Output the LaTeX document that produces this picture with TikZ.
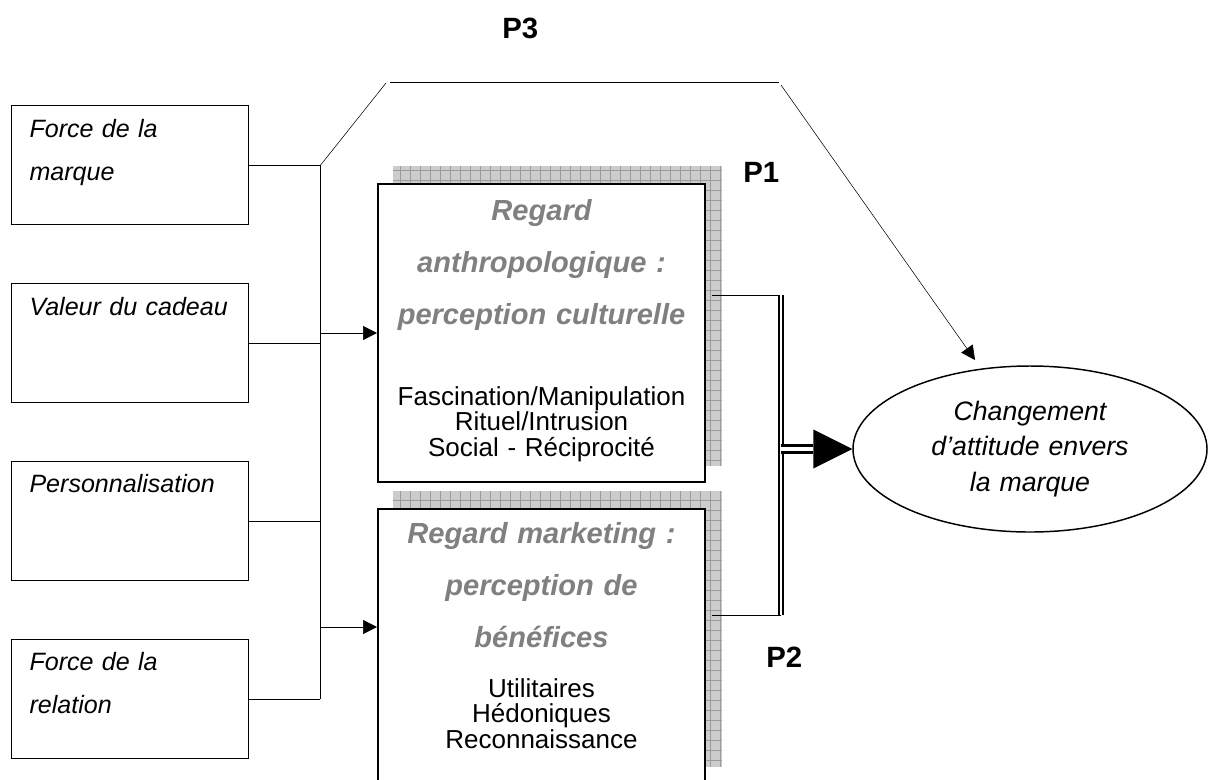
\documentclass[tikz,border=0pt]{standalone}
\usepackage{fontspec}
\setmainfont{Liberation Sans}
\usetikzlibrary{arrows.meta,calc,shapes.geometric,backgrounds}
\definecolor{titlegray}{RGB}{128,128,128}
\definecolor{shadowgray}{RGB}{204,204,204}
\definecolor{shadowline}{RGB}{155,155,155}

\tikzset{every picture/.style={line width=0.75pt}}
\tikzset{
  factor/.style={draw, line width=1.1pt, anchor=north west, inner sep=0pt,
    minimum width=177.75pt, minimum height=89.25pt},
  factortext/.style={anchor=base west, inner sep=0pt, text width=170pt, align=left,
    font=\fontsize{18.8}{32.3}\selectfont\itshape},
  regard/.style={draw, line width=1.5pt, fill=white, anchor=north west, inner sep=0pt,
    minimum width=245.25pt},
  regardtitle/.style={anchor=base, inner sep=0pt, text width=240pt, align=center,
    text=titlegray, font=\fontsize{21.8}{39}\selectfont\bfseries\itshape},
  regarditems/.style={anchor=base, inner sep=0pt, text width=240pt, align=center,
    font=\fontsize{19.5}{19.4}\selectfont},
  outcome/.style={draw, ellipse, line width=1.1pt, inner sep=0pt,
    minimum width=265.5pt, minimum height=124.5pt, text width=160pt, align=center,
    font=\fontsize{20}{26.6}\selectfont\itshape},
  plabel/.style={anchor=base west, inner sep=0pt, font=\fontsize{22}{26}\selectfont\bfseries},
  feed/.style={-{Triangle[length=10.5pt,width=10.5pt]}},
  joint/.style={double, line width=1.2pt, double distance=1.9pt},
  bigshaft/.style={double, line width=2.8pt, double distance=2.6pt},
}

\begin{document}
\begin{tikzpicture}[x=0.75pt,y=0.75pt,yscale=-1,xscale=1]
\useasboundingbox (0,0) rectangle (1227,779);

%Factor boxes
\node[factor] (f1) at (11,105) {};
\node[factor] (f2) at (11,283) {};
\node[factor] (f3) at (11,461) {};
\node[factor] (f4) at (11,639) {};
\node[factortext] (f1txt) at ($(f1.north west)+(18,32)$) {Force de la\\marque};
\node[factortext] (f2txt) at ($(f2.north west)+(18,32)$) {Valeur du cadeau};
\node[factortext] (f3txt) at ($(f3.north west)+(18,31)$) {Personnalisation};
\node[factortext] (f4txt) at ($(f4.north west)+(18,31)$) {Force de la\\relation};

%Regard boxes
\node[regard, minimum height=223.5pt] (anth) at (377,183) {};
\node[regard, minimum height=205.5pt] (mkt) at (377,508) {};
\node[regardtitle] (anthtitle) at ($(anth.north)+(0,37)$) {Regard\\anthropologique :\\perception culturelle};
\node[regarditems] (anthitems) at ($(anth.north)+(0,222)$) {Fascination/Manipulation\\Rituel/Intrusion\\Social - Réciprocité};
\node[regardtitle] (mkttitle) at ($(mkt.north)+(0,35)$) {Regard marketing :\\perception de\\bénéfices};
\node[regarditems] (mktitems) at ($(mkt.north)+(0,189)$) {Utilitaires\\Hédoniques\\Reconnaissance};

%Shadows behind the regard boxes
\begin{pgfonlayer}{background}
\foreach \bx in {anth,mkt}{
  \begin{scope}
    \clip ($(\bx.south west)+(16,-17)$) rectangle ($(\bx.north east)+(16,-17)$);
    \fill[shadowgray] ($(\bx.south west)+(16,-17)$) rectangle ($(\bx.north east)+(16,-17)$);
    \draw[shadowline, step=10, line width=0.4pt] ($(\bx.south west)+(16,-17)$) grid ($(\bx.north east)+(16,-17)$);
  \end{scope}
}
\end{pgfonlayer}

%Outcome
\node[outcome] (ell) at (1030,449) {Changement\\d’attitude envers\\la marque};

% Text Node
\node[plabel] (p3) at (502,38) {P3};
% Text Node
\node[plabel] (p1) at (743,182) {P1};
% Text Node
\node[plabel] (p2) at (766,667) {P2};

%Bus from the factors
\coordinate (busT) at ($(f1.east)+(71,0)$);
\coordinate (busB) at (f4.east -| busT);
\draw (f1.east) -- (busT) -- (busB);
\draw (f2.east) -- (f2.east -| busT);
\draw (f3.east) -- (f3.east -| busT);
\draw (f4.east) -- (f4.east -| busT);
\coordinate (mktin) at ($(mkt.north west)+(0,119)$);
\draw[feed] (anth.west -| busT) -- (anth.west);
\draw[feed] (mktin -| busT) -- (mktin);

%P3 path over the top
\coordinate (p3a) at (386,83);
\coordinate (p3b) at (390,82);
\coordinate (p3c) at (779,82);
\coordinate (p3d) at (781,85);
\coordinate (p3tip) at (975,360);
\draw (busT) -- (p3a);
\draw (p3b) -- (p3c);
\draw[feed] (p3d) -- (p3tip);

%Joining the two regards
\coordinate (jtop) at (781,295);
\coordinate (jbot) at (781,615);
\draw ($(anth.north east)+(6,112)$) -- (jtop);
\draw ($(mkt.north east)+(6,107)$) -- (jbot);
\draw[joint] (jtop) -- (jbot);
\coordinate (jmid) at (jtop |- ell.west);
\draw[bigshaft] (jmid) -- ($(ell.west)+(-39,0)$);
\fill ($(ell.west)+(-39,-19.5)$) -- (ell.west) -- ($(ell.west)+(-39,19.5)$) -- cycle;

\end{tikzpicture}
\end{document}
